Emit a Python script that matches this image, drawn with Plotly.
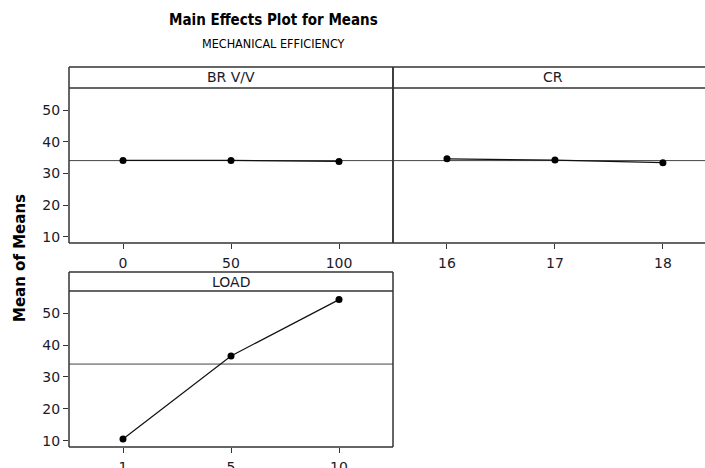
import plotly.graph_objects as go

# ---- data ----
br_levels = ["0", "50", "100"]
br_means = [34.1, 34.1, 33.8]
cr_levels = ["16", "17", "18"]
cr_means = [34.6, 34.2, 33.4]
load_levels = ["1", "5", "10"]
load_means = [10.5, 36.6, 54.3]
grand_mean = 34.05
y_ticks = [10, 20, 30, 40, 50]
panel_titles = ["BR V/V", "CR", "LOAD"]

W, H = 705, 468
def px(x):
    return x / W
def py(y):
    return 1 - y / H

TICKFONT = dict(family="DejaVu Sans, Verdana, sans-serif", size=14, color="#1a1a2a")
LINEC = "#333333"

fig = go.Figure()

panels = [
    (br_levels, br_means, "x", "y", 69, 393, 67, 88, 243, [-0.5, 2.5], True),
    (cr_levels, cr_means, "x2", "y2", 393, 705, 67, 88, 243, [-0.5, 2.39], False),
    (load_levels, load_means, "x3", "y3", 69, 393, 272, 291, 447, [-0.5, 2.5], True),
]

layout_axes = {}
for i, (lv, mv, xa, ya, x0, x1, st, sb, pb, xr, showy) in enumerate(panels):
    fig.add_trace(go.Scatter(
        x=lv, y=mv, xaxis=xa, yaxis=ya, mode="lines+markers",
        line=dict(color="#111111", width=1.2),
        marker=dict(color="#000000", size=7),
        showlegend=False, hoverinfo="skip"))
    xkey = "xaxis" if xa == "x" else "xaxis" + xa[1:]
    ykey = "yaxis" if ya == "y" else "yaxis" + ya[1:]
    layout_axes[xkey] = dict(
        domain=[px(x0), px(x1)], anchor=ya, type="category",
        categoryorder="array", categoryarray=lv, range=xr,
        showgrid=False, zeroline=False, showline=False, automargin=False,
        ticks="outside", ticklen=5, tickwidth=1.3, tickcolor=LINEC,
        ticklabelstandoff=2,
        tickfont=TICKFONT, fixedrange=True)
    layout_axes[ykey] = dict(
        domain=[py(pb), py(sb)], anchor=xa, range=[8, 57],
        tickvals=y_ticks if showy else [], showticklabels=showy,
        showgrid=False, zeroline=False, showline=False, automargin=False,
        ticks="outside" if showy else "", ticklen=5, tickwidth=1.3, tickcolor=LINEC,
        tickfont=TICKFONT, fixedrange=True)
    fig.add_shape(type="line", xref=f"{xa} domain", yref=ya,
                  x0=0, x1=1, y0=grand_mean, y1=grand_mean,
                  line=dict(color="#444444", width=1), layer="below")
    fig.add_shape(type="rect", xref="paper", yref="paper",
                  x0=px(x0), x1=px(x1), y0=py(sb), y1=py(st),
                  line=dict(width=0), fillcolor="white", layer="below")
    seg = [
        (x0, st, x1, st), (x0, sb, x1, sb), (x0, pb, x1, pb), (x0, st, x0, pb),
    ]
    if x1 < W:
        seg.append((x1, st, x1, pb))
    for (a, b, c, d) in seg:
        fig.add_shape(type="line", xref="paper", yref="paper",
                      x0=px(a), y0=py(b), x1=px(c), y1=py(d),
                      line=dict(color=LINEC, width=1.5))
    fig.add_annotation(text=panel_titles[i], xref="paper", yref="paper",
                       x=px((x0 + x1) / 2) if i != 1 else px(553),
                       y=py((st + sb) / 2), showarrow=False,
                       font=dict(family="DejaVu Sans, Verdana, sans-serif", size=14, color="#1a1a2a"),
                       xanchor="center", yanchor="middle")

fig.update_layout(**layout_axes)

COND = "DejaVu Sans Condensed, Liberation Sans Narrow, Roboto Condensed, Arial Narrow, sans-serif"
fig.add_annotation(text="<b>Main Effects Plot for Means</b>", xref="paper", yref="paper",
                   x=px(273), y=py(20), showarrow=False, xanchor="center", yanchor="middle",
                   font=dict(family=COND, size=15, color="#000000"))
fig.add_annotation(text="MECHANICAL EFFICIENCY", xref="paper", yref="paper",
                   x=px(273), y=py(43), showarrow=False, xanchor="center", yanchor="middle",
                   font=dict(family=COND, size=12.5, color="#000000"))
fig.add_annotation(text="<b>Mean of Means</b>", xref="paper", yref="paper",
                   x=px(20), y=py(258), showarrow=False, textangle=-90,
                   xanchor="center", yanchor="middle",
                   font=dict(family="DejaVu Sans, Verdana, sans-serif", size=15, color="#000000"))

fig.update_layout(width=W, height=H, margin=dict(l=0, r=0, t=0, b=0, autoexpand=False),
                  paper_bgcolor="white", plot_bgcolor="white", showlegend=False)

fig.write_html("out.html", config={"displayModeBar": False, "responsive": False},
               post_script="document.body.style.margin='0px';document.body.style.overflow='hidden';")
